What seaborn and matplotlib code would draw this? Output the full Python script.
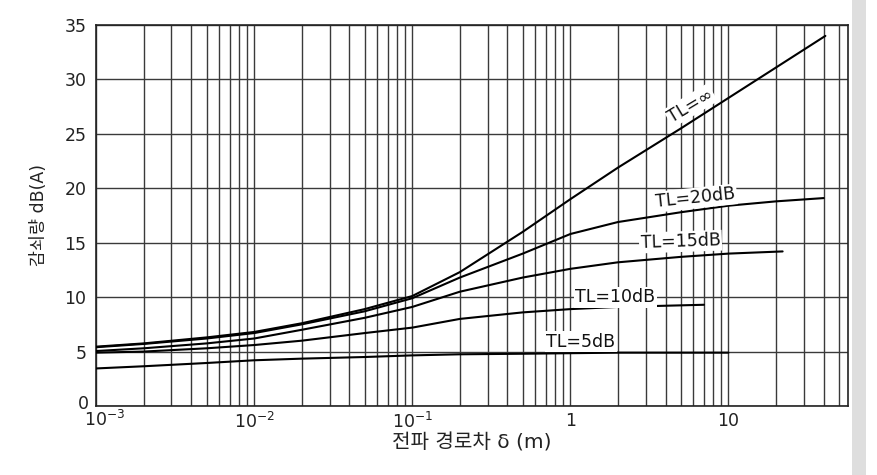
import numpy as np
import pandas as pd
import matplotlib
matplotlib.use("Agg")
import matplotlib.pyplot as plt
import matplotlib.transforms as mtransforms
from matplotlib.patches import Rectangle
from matplotlib.ticker import LogLocator, FixedLocator, NullFormatter, FixedFormatter
import seaborn as sns

# ---- data ----
x_inf = [0.001, 0.002, 0.005, 0.01, 0.02, 0.05, 0.1, 0.2, 0.5, 1, 2, 5, 10, 20, 41]
y_inf = [5.45, 5.75, 6.3, 6.8, 7.6, 8.9, 10.1, 12.3, 16.0, 19.0, 21.9, 25.5, 28.3, 31.1, 34.0]

x_20 = [0.001, 0.002, 0.005, 0.01, 0.02, 0.05, 0.1, 0.2, 0.5, 1, 2, 5, 10, 20, 40]
y_20 = [5.4, 5.7, 6.2, 6.7, 7.5, 8.7, 9.9, 11.8, 14.0, 15.8, 16.9, 17.8, 18.4, 18.8, 19.1]

x_15 = [0.001, 0.002, 0.005, 0.01, 0.02, 0.05, 0.1, 0.2, 0.5, 1, 2, 5, 10, 22]
y_15 = [5.05, 5.3, 5.75, 6.2, 7.0, 8.1, 9.1, 10.5, 11.8, 12.6, 13.2, 13.7, 14.0, 14.2]

x_10 = [0.001, 0.002, 0.005, 0.01, 0.02, 0.05, 0.1, 0.2, 0.5, 1, 2, 7]
y_10 = [4.9, 5.0, 5.3, 5.6, 6.0, 6.7, 7.2, 8.0, 8.6, 8.9, 9.1, 9.3]

x_5 = [0.001, 0.002, 0.005, 0.01, 0.02, 0.05, 0.1, 0.2, 0.5, 1, 2, 5, 10]
y_5 = [3.45, 3.65, 3.95, 4.2, 4.35, 4.5, 4.65, 4.75, 4.8, 4.85, 4.9, 4.9, 4.9]

curve_names = ["TL=∞", "TL=20dB", "TL=15dB", "TL=10dB", "TL=5dB"]
x_ticks = [1e-3, 1e-2, 1e-1, 1, 10]
x_ticklabels = [r"$10^{-3}$", r"$10^{-2}$", r"$10^{-1}$", "1", "10"]
y_ticks = [0, 5, 10, 15, 20, 25, 30, 35]
x_label = "전파 경로차 δ (m)"
y_label = "감쇠량 dB(A)"

# label positions (data coords) and rotations
label_x = [5.74, 6.2, 4.97, 1.93, 1.16]
label_y = [27.6, 19.1, 15.1, 10.0, 5.9]
label_rot = [31, 6, 2, 0, 0]

# ---- build table ----
xs = [x_inf, x_20, x_15, x_10, x_5]
ys = [y_inf, y_20, y_15, y_10, y_5]
df = pd.concat(
    [pd.DataFrame({"x": x, "y": y, "curve": n}) for x, y, n in zip(xs, ys, curve_names)],
    ignore_index=True,
)

sns.set_style("white")
plt.rcParams["font.family"] = ["DejaVu Sans", "Noto Sans CJK KR"]
plt.rcParams["axes.unicode_minus"] = False

fig = plt.figure(figsize=(8.77, 4.75), dpi=100)
fig.patch.set_facecolor("white")
# scan shading at the right edge
fig.patches.append(Rectangle((852 / 877, 0), 14 / 877, 1, transform=fig.transFigure,
                             facecolor="#dedede", edgecolor="none", zorder=0))
ax = fig.add_axes([96 / 877, 1 - 406 / 475, 752 / 877, 381 / 475])

sns.lineplot(data=df, x="x", y="y", hue="curve", palette={n: "black" for n in curve_names},
             sort=False, estimator=None, legend=False, linewidth=1.5, ax=ax, zorder=3)

ax.set_xscale("log")
ax.set_xlim(1e-3, 57)
ax.set_ylim(0, 35)

ax.xaxis.set_major_locator(FixedLocator(x_ticks))
ax.xaxis.set_major_formatter(FixedFormatter(x_ticklabels))
ax.xaxis.set_minor_locator(LogLocator(base=10, subs=np.arange(2, 10), numticks=20))
ax.xaxis.set_minor_formatter(NullFormatter())
ax.set_yticks(y_ticks)

ax.grid(which="both", axis="x", color="#3a3a3a", linewidth=1.0)
ax.grid(which="major", axis="y", color="#3a3a3a", linewidth=1.0)
ax.set_axisbelow(True)
ax.tick_params(which="both", length=0, labelsize=12.5, colors="#222222")
ax.tick_params(axis="x", pad=4)
ax.tick_params(axis="y", pad=7)

for s in ax.spines.values():
    s.set_color("#222222")
    s.set_linewidth(1.2)

ax.set_xlabel(x_label, fontsize=14.5, labelpad=1, color="#222222")
ax.set_ylabel(y_label, fontsize=12.5, labelpad=12, color="#222222")

for name, lx, ly, r in zip(curve_names, label_x, label_y, label_rot):
    ax.text(lx, ly, name, fontsize=12.5, rotation=r, ha="center", va="center",
            rotation_mode="anchor", color="#111111", zorder=4,
            bbox=dict(facecolor="white", edgecolor="none", pad=1.0))

# nudge the first x tick label right and the "0" label up, as in the reference
fig.canvas.draw()
xt0 = ax.xaxis.get_major_ticks()[0].label1
xt0.set_transform(ax.get_xaxis_transform() +
                  mtransforms.ScaledTranslation(9 / 100, -4 / 100, fig.dpi_scale_trans))
yt0 = ax.yaxis.get_major_ticks()[0].label1
yt0.set_transform(ax.get_yaxis_transform() +
                  mtransforms.ScaledTranslation(-7 / 100, 4 / 100, fig.dpi_scale_trans))

fig.savefig("out.png", dpi=100)
